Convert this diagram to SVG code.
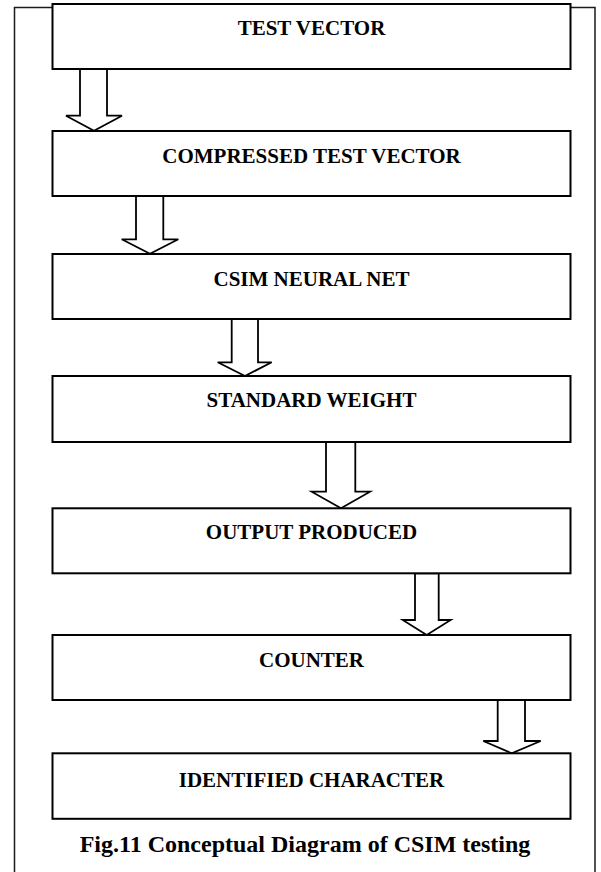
<svg xmlns="http://www.w3.org/2000/svg" width="601" height="872" viewBox="0 0 601 872">
  <style>
    .frame { fill: none; stroke: #1a1a1a; stroke-width: 1.5; }
    .box { fill: #ffffff; stroke: #000000; stroke-width: 2; }
    .arrow { fill: #ffffff; stroke: #000000; stroke-width: 1.8; stroke-linejoin: miter; }
    .label { font-family: "Liberation Serif", "Times New Roman", serif; font-weight: bold; font-size: 21px; fill: #000000; text-anchor: middle; }
    .caption { font-family: "Liberation Serif", "Times New Roman", serif; font-weight: bold; font-size: 24px; fill: #000000; text-anchor: middle; }
  </style>

  <rect width="601" height="872" fill="#ffffff"/>

  <!-- outer frame, open at the bottom -->
  <path class="frame" d="M14.5,880 V7.5 H595 V880"/>

  <!-- block arrows between stages -->
  <g id="connectors">
    <polygon class="arrow" points="80,68.7 107,68.7 107,115.7 122,115.7 94,130.7 66,115.7 80,115.7"/>
    <polygon class="arrow" points="136,195.7 163.3,195.7 163.3,239.3 178.3,239.3 150,253.7 121.7,239.3 136,239.3"/>
    <polygon class="arrow" points="231.7,319 258,319 258,362.3 271.7,362.3 245,376 217.7,362.3 231.7,362.3"/>
    <polygon class="arrow" points="326,441.7 355.3,441.7 355.3,491.7 370,491.7 341,508.3 311.7,491.7 326,491.7"/>
    <polygon class="arrow" points="415,573.3 438.7,573.3 438.7,620 450.7,620 426.7,635 402.7,620 415,620"/>
    <polygon class="arrow" points="497.7,700 525,700 525,741 540.7,741 511.7,753.3 483.3,741 497.7,741"/>
  </g>

  <g id="test-vector">
    <rect class="box" x="52.5" y="4" width="518" height="65"/>
    <text class="label" x="311.5" y="35">TEST VECTOR</text>
  </g>
  <g id="compressed-test-vector">
    <rect class="box" x="52.5" y="131" width="518" height="65"/>
    <text class="label" x="311.5" y="163">COMPRESSED TEST VECTOR</text>
  </g>
  <g id="csim-neural-net">
    <rect class="box" x="52.5" y="254" width="518" height="65"/>
    <text class="label" x="311.5" y="286">CSIM NEURAL NET</text>
  </g>
  <g id="standard-weight">
    <rect class="box" x="52.5" y="376" width="518" height="66"/>
    <text class="label" x="311.5" y="407">STANDARD WEIGHT</text>
  </g>
  <g id="output-produced">
    <rect class="box" x="52.5" y="508.3" width="518" height="65"/>
    <text class="label" x="311.5" y="539">OUTPUT PRODUCED</text>
  </g>
  <g id="counter">
    <rect class="box" x="52.5" y="635" width="518" height="65"/>
    <text class="label" x="311.5" y="667">COUNTER</text>
  </g>
  <g id="identified-character">
    <rect class="box" x="52.5" y="753.3" width="518" height="65.5"/>
    <text class="label" x="311.5" y="787">IDENTIFIED CHARACTER</text>
  </g>

  <text class="caption" x="305" y="852">Fig.11 Conceptual Diagram of CSIM testing</text>
</svg>
